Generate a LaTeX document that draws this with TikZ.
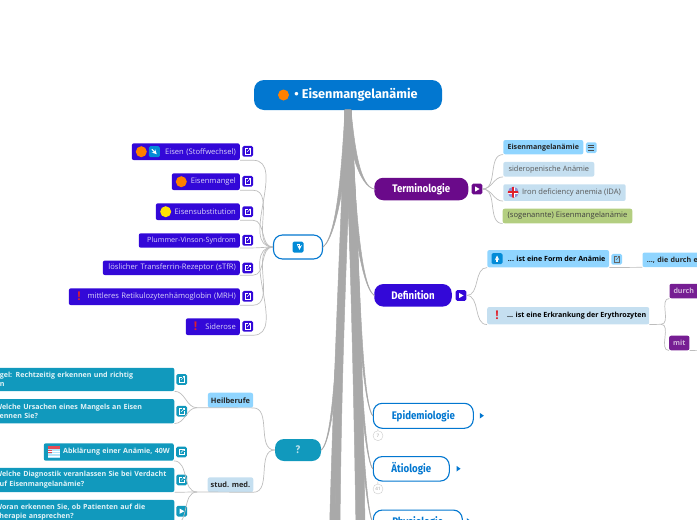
\documentclass[tikz,border=0pt]{standalone}
\usepackage{fontspec}
\setmainfont{Open Sans}
\newfontfamily\rootfont{Fira Sans}
\newfontfamily\labelfont[FakeStretch=.88]{Fira Sans}
\usetikzlibrary{shapes.geometric}

\definecolor{rootblue}{HTML}{0277D0}
\definecolor{quizteal}{HTML}{1199BD}
\definecolor{indigo}{HTML}{3308D8}
\definecolor{termpurple}{HTML}{6A0A8A}
\definecolor{lightblue}{HTML}{90D5FF}
\definecolor{paleblue}{HTML}{C5DFF0}
\definecolor{palegreen}{HTML}{B3CE80}
\definecolor{trunkgray}{HTML}{A9A9A9}
\definecolor{twiggray}{HTML}{BDBDBD}
\definecolor{redmark}{HTML}{E0202C}

\tikzset{
  glyph/.store in=\glyphcolor, glyph=white,
  trunk/.style={fill=trunkgray, draw=trunkgray, line width=.5pt},
  twig/.style={draw=twiggray, line width=.7pt},
  rootbox/.style={fill=rootblue, text=white, rounded corners=10pt, inner sep=0pt,
    font=\fontsize{12.7}{14}\rootfont\bfseries},
  mainbox/.style={text=white, rounded corners=9pt, inner sep=0pt,
    font=\fontsize{11}{12}\labelfont\bfseries},
  openbox/.style={draw=rootblue, line width=1.1pt, fill=white, text=rootblue, rounded corners=9pt,
    inner sep=0pt, font=\fontsize{11}{12}\labelfont\bfseries},
  itembox/.style={fill=indigo, text=white!82!indigo, rounded corners=2pt, inner xsep=4pt, inner ysep=0pt,
    align=right, anchor=east, font=\fontsize{7.6}{9}\selectfont},
  quizbox/.style={fill=quizteal, text=white!88!quizteal, rounded corners=2pt, inner sep=0pt, anchor=east,
    text width=179pt, align=left, font=\fontsize{7.1}{9.6}\selectfont\bfseries},
  leafbox/.style={rounded corners=2pt, inner xsep=3pt, inner ysep=0pt, text=black!75,
    font=\fontsize{7.4}{9}\selectfont},
  strongleaf/.style={leafbox, font=\fontsize{7.1}{9}\selectfont\bfseries},
  dot/.style={circle, inner sep=0pt, minimum size=11pt},
  bang/.style={text=redmark, inner sep=0pt, font=\fontsize{12}{12}\selectfont\bfseries},
  badge/.style={circle, draw=black!20, fill=white, inner sep=0pt, minimum size=10pt, text=black!40,
    font=\fontsize{4.5}{5}\selectfont},
  tip/.style={isosceles triangle, isosceles triangle apex angle=70, fill=rootblue, inner sep=0pt, minimum size=4pt},
  iconbox/.style={rounded corners=1.5pt, inner sep=0pt, minimum size=10.7pt, fill=#1},
  linkicon/.style={iconbox=#1, path picture={
    \begin{scope}[shift={(path picture bounding box.center)}, sharp corners]
      \draw[\glyphcolor, line width=.5pt] (.3,-2.6) -- (-2.6,-2.6) -- (-2.6,2.6) -- (2.6,2.6) -- (2.6,-.3);
      \draw[\glyphcolor, line width=.5pt] (-.6,.6) -- (2.8,-2.8);
      \draw[\glyphcolor, line width=.5pt] (.8,-2.9) -- (2.9,-2.9) -- (2.9,-.8);
    \end{scope}}},
  playicon/.style={iconbox=#1, path picture={
    \begin{scope}[shift={(path picture bounding box.center)}, sharp corners]
      \fill[white] (-2,-2.6) -- (2.6,0) -- (-2,2.6) -- cycle;
    \end{scope}}},
  listicon/.style={iconbox=#1, path picture={
    \begin{scope}[shift={(path picture bounding box.center)}, sharp corners]
      \draw[black!70, line width=.6pt] (-3,-2.4) -- (3,-2.4) (-3,0) -- (3,0) (-3,2.4) -- (3,2.4);
    \end{scope}}},
  arrowicon/.style={rounded corners=1.5pt, inner sep=0pt, minimum size=11pt, fill=rootblue!85!cyan, path picture={
    \begin{scope}[shift={(path picture bounding box.center)}, sharp corners]
      \draw[white, line width=1.1pt, ->, >=stealth] #1;
    \end{scope}}},
  flagicon/.style={circle, inner sep=0pt, minimum size=11pt, fill=blue!45!gray!60, path picture={
    \begin{scope}[shift={(path picture bounding box.center)}, sharp corners]
      \draw[white, line width=3.4pt] (-6,0) -- (6,0) (0,-6) -- (0,6);
      \draw[redmark, line width=1.8pt] (-6,0) -- (6,0) (0,-6) -- (0,6);
    \end{scope}}},
  bookicon/.style={inner sep=0pt, minimum width=12pt, minimum height=11pt, fill=cyan!30, path picture={
    \begin{scope}[shift={(path picture bounding box.center)}, sharp corners]
      \fill[redmark!80] (-6,-6) rectangle (6,-3);
      \fill[redmark!80] (-6,-2) rectangle (-2,1);
      \draw[white, line width=.7pt] (-6,-1) -- (6,-1) (-2,1.5) -- (6,1.5) (-6,4) -- (6,4);
    \end{scope}}},
}

% root to branch, wide at the root
\newcommand{\taper}[6]{\path[trunk] ([xshift=-#5pt]#1) .. controls ([xshift=-#5pt]#2) and ([xshift=-#6pt]#3) .. ([xshift=-#6pt]#4)
  -- ([xshift=#6pt]#4) .. controls ([xshift=#6pt]#3) and ([xshift=#5pt]#2) .. ([xshift=#5pt]#1) -- cycle;}

\begin{document}
\begin{tikzpicture}[x=1pt, y=-1pt]
  \clip (0,0) rectangle (697,520);

  % Main nodes
  \node[rootbox, minimum width=188pt, minimum height=30pt] (root) at (348,95) {\hspace*{16pt}• Eisenmangelanämie};
  \node[dot, fill=orange] (rootdot) at (283.5,95) {};

  \node[openbox, minimum width=49pt, minimum height=24pt] (hub) at (298,247) {};
  \node[arrowicon={(-1.5,-2.5) -- (1.5,-2.5) -- (1.5,2.8)}] (hubicon) at (298,247) {};
  \node[mainbox, fill=quizteal, text=white!70!quizteal, minimum width=46pt, minimum height=22pt] (quiz) at (298,450) {?};

  \node[mainbox, fill=termpurple, minimum width=94pt, minimum height=22.5pt] (term) at (421.3,189) {Terminologie};
  \node[playicon=termpurple] (termplay) at (477,189) {};
  \node[mainbox, fill=indigo, minimum width=77.5pt, minimum height=22.5pt] (defin) at (413,295.3) {Definition};
  \node[playicon=indigo] (definplay) at (461,295.5) {};
  \node[openbox, minimum width=100pt, minimum height=25pt] (epid) at (423.3,415.8) {Epidemiologie};
  \node[openbox, minimum width=76pt, minimum height=24.5pt] (aet) at (411.3,468.8) {Ätiologie};
  \node[openbox, minimum width=89pt, minimum height=24.5pt] (phys) at (417.8,522.3) {Physiologie};
  \node[tip] (epidtip) at (481.3,415.7) {};
  \node[tip] (aettip) at (458,468.7) {};
  \node[tip] (physup) at (468.3,521) {};
  \node[badge] (epidnum) at (378,435.7) {7};
  \node[badge] (aetnum) at (378,489) {41};

  % Off-page ends
  \coordinate (down1) at (332,530);
  \coordinate (down2) at (337.5,530);
  \coordinate (down3) at (359,530);
  \coordinate (down4) at (362,530);
  \coordinate (mitend) at (700,350.3);

  % Trunks
  \taper{root.south}{345,200}{337,350}{down1}{3}{2.5}
  \taper{root.south}{346,220}{339,340}{down2}{3}{2.5}
  \taper{root.south}{352,220}{356,340}{down3}{3}{3}
  \taper{root.south}{353,200}{360,340}{down4}{3}{3}
  \taper{root.south}{345,160}{338,235}{hub.east}{3}{.2}
  \taper{root.south}{342,320}{335,440}{quiz.east}{3}{.2}
  \taper{root.south}{352,150}{360,186}{term.west}{3}{.2}
  \taper{root.south}{352,200}{360,285}{defin.west}{3}{.2}
  \taper{root.south}{356,230}{360,400}{epid.west}{3}{.2}
  \taper{root.south}{355,300}{362,455}{aet.west}{3}{.2}
  \taper{root.south}{355,340}{363,505}{phys.west}{3}{.2}

  % Left list
  \node[itembox, minimum height=16.7pt, text width=100pt] (eisen) at (240,151.7) {Eisen (Stoffwechsel)};
  \node[dot, fill=orange] (eisendot) at (141.3,151.7) {};
  \node[arrowicon={(-2.5,-2.5) -- (2.5,2.5)}] (eisenicon) at (154.3,151.7) {};
  \node[itembox, minimum height=16.7pt, text width=60pt] (mangel) at (240,181.7) {Eisenmangel};
  \node[dot, fill=orange] (mangeldot) at (181.3,181.7) {};
  \node[itembox, minimum height=16.7pt, text width=76pt] (subst) at (240,211.7) {Eisensubstitution};
  \node[dot, fill=yellow!85!orange] (substdot) at (165.7,211.7) {};
  \node[itembox, minimum height=14.4pt, text width=93pt, font=\fontsize{7.2}{9}\selectfont] (plummer) at (240,240.5) {Plummer-Vinson-Syndrom};
  \node[itembox, minimum height=14.4pt, text width=129pt] (tfr) at (240,267.8) {löslicher Transferrin-Rezeptor (sTfR)};
  \node[itembox, minimum height=16.7pt, text width=163pt] (mrh) at (240,296.7) {mittleres Retikulozytenhämoglobin (MRH)};
  \node[bang] (mrhbang) at (79,296.7) {!};
  \node[itembox, minimum height=16.7pt, text width=46pt] (sidero) at (240,326.7) {Siderose};
  \node[bang] (siderobang) at (195.7,326.7) {!};

  \node[linkicon=indigo] (eisenlink) at (247.7,151.3) {};
  \node[linkicon=indigo] (mangellink) at (247.7,181.3) {};
  \node[linkicon=indigo] (substlink) at (247.7,211.7) {};
  \node[linkicon=indigo] (plummerlink) at (247.7,240.3) {};
  \node[linkicon=indigo] (tfrlink) at (247.7,268) {};
  \node[linkicon=indigo] (mrhlink) at (247.7,296.3) {};
  \node[linkicon=indigo] (siderolink) at (247.7,326.3) {};

  \foreach \n in {eisen, mangel, subst, plummer, tfr, mrh, sidero}
    \draw[twig] (\n.south east) -- ++(13,0) to[out=0, in=180] (hub.west);

  % Quiz side
  \node[leafbox, fill=lightblue, minimum width=45pt, minimum height=15pt, text=black!85] (heil) at (230.5,400.2) {\textbf{Heilberufe}};
  \node[leafbox, fill=paleblue, minimum width=45pt, minimum height=14.7pt, text=black!85] (stud) at (230.5,484.7) {\textbf{stud. med.}};
  \coordinate (heiljoin) at (197,407.7);
  \coordinate (studjoin) at (197,492);

  \node[quizbox, minimum height=23.3pt] (qa) at (174.5,379.4) {\hspace*{4.5pt}gel: Rechtzeitig erkennen und richtig\\\hspace*{4.5pt}n};
  \node[quizbox, minimum height=24.3pt] (qb) at (174.5,411.2) {Welche Ursachen eines Mangels an Eisen\\kennen Sie?};
  \node[quizbox, text width=122pt, align=right, inner xsep=4pt, minimum height=17.4pt] (abkl) at (174,452) {Abklärung einer Anämie, 40W};
  \node[bookicon] (abklicon) at (54,452) {};
  \node[quizbox, minimum height=24.3pt] (qc) at (174.5,479.9) {Welche Diagnostik veranlassen Sie bei Verdacht\\auf Eisenmangelanämie?};
  \node[quizbox, minimum height=24.3pt] (qd) at (174.5,512) {Woran erkennen Sie, ob Patienten auf die\\Therapie ansprechen?};

  \node[linkicon=quizteal] (qalink) at (181.7,379.4) {};
  \node[linkicon=quizteal] (qblink) at (181.7,411.2) {};
  \node[linkicon=quizteal] (abkllink) at (181.5,452) {};
  \node[linkicon=quizteal] (qclink) at (181.7,479.9) {};
  \node[playicon=quizteal] (qdplay) at (181.7,511.2) {};

  \draw[twig] (quiz.west) to[out=180, in=0] (heil.south east) -- (heiljoin);
  \draw[twig] (quiz.west) to[out=180, in=0] (stud.south east) -- (studjoin);
  \path[twig] (heiljoin) edge[out=180, in=0] (qa.south east)
                         edge[out=180, in=0] (qb.south east)
              (studjoin) edge[out=180, in=0] (abkl.south east)
                          edge[out=180, in=0] (qc.south east)
                          edge[out=180, in=0] (qd.south east);

  % Terminologie leaves
  \node[strongleaf, fill=lightblue, minimum width=80pt, minimum height=14.3pt, text=black!85] (ta) at (543.3,147.2) {Eisenmangelanämie};
  \node[listicon=lightblue] (talist) at (591.3,147.7) {};
  \node[leafbox, fill=paleblue, minimum width=91pt, minimum height=14.7pt, text=black!65] (tb) at (548.8,169.3) {sideropenische Anämie};
  \node[leafbox, fill=paleblue, minimum width=122.4pt, minimum height=16.7pt, text=black!65, font=\fontsize{7.6}{9}\selectfont] (tc) at (564.5,192.6) {\hspace*{14pt}Iron deficiency anemia (IDA)};
  \node[flagicon] (tcflag) at (513.3,192.3) {};
  \node[leafbox, fill=palegreen, minimum width=129.6pt, minimum height=14.6pt, text=black!75, font=\fontsize{7.6}{9}\selectfont] (td) at (567.5,216) {(sogenannte) Eisenmangelanämie};

  \path[twig] (termplay.east) edge[out=0, in=180] (ta.south west)
                              edge[out=0, in=180] (tb.south west)
                              edge[out=0, in=180] (tc.south west)
                              edge[out=0, in=180] (td.south west);

  % Definition leaves
  \node[strongleaf, fill=lightblue, minimum width=121.7pt, minimum height=17.3pt, text=black] (da) at (548.2,258.7) {\hspace*{17pt}... ist eine Form der Anämie};
  \node[arrowicon={(0,3) -- (0,-3.2)}] (daicon) at (497,258.7) {};
  \node[glyph=black!60, linkicon=lightblue] (dalink) at (616.7,259.3) {};
  \node[strongleaf, fill=lightblue, anchor=south west, inner xsep=4.4pt, text width=60pt, minimum height=14.6pt, text=black!85, align=left] (db) at (642.3,267.3) {..., die durch e};
  \node[strongleaf, fill=paleblue, minimum width=161.7pt, minimum height=17.3pt, text=black] (dc) at (568.2,315.7) {\hspace*{17pt}... ist eine Erkrankung der Erythrozyten};
  \node[bang] (dcbang) at (497,315.7) {!};
  \coordinate (dcjoin) at (661,324.3);
  \node[strongleaf, fill=termpurple!92!white, anchor=south west, inner xsep=4pt, text width=32pt, minimum height=14.5pt, text=white!70!termpurple, align=left] (dd) at (669.3,298.5) {durch};
  \node[strongleaf, fill=termpurple!92!white, minimum width=20.3pt, minimum height=14.6pt, text=white!70!termpurple] (de) at (679.3,343) {mit};

  \path[twig] (definplay.east) edge[out=0, in=180] (da.south west)
                               edge[out=0, in=180] (dc.south west);
  \draw[twig] (da.south east) -- (db.south west);
  \draw[twig] (dc.south east) -- (dcjoin);
  \path[twig] (dcjoin) edge[out=0, in=180] (dd.south west)
                       edge[out=0, in=180] (de.south west);
  \draw[twig] (de.south east) -- (mitend);

  % Badge stems
  \draw[twig, line width=.5pt] (epid.south west) ++(5,0) -- (epidnum);
  \draw[twig, line width=.5pt] (aet.south west) ++(5,0) -- (aetnum);
\end{tikzpicture}
\end{document}
